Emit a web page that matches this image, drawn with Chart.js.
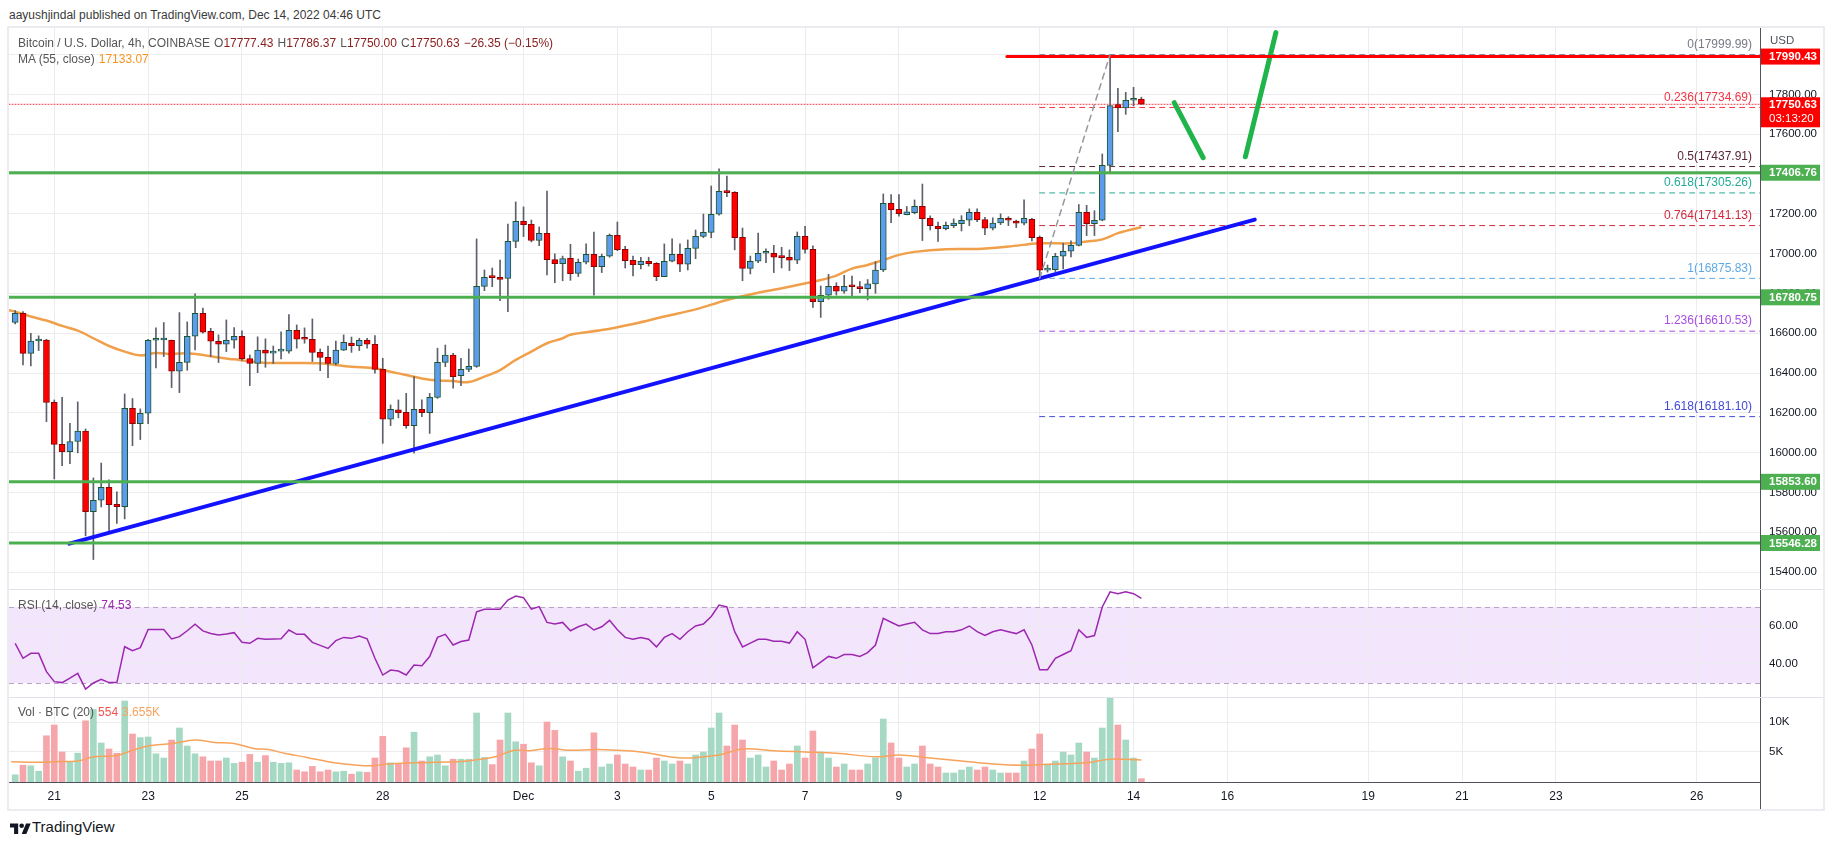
<!DOCTYPE html>
<html>
<head>
<meta charset="utf-8">
<title>Bitcoin / U.S. Dollar, 4h</title>
<script src="https://cdn.jsdelivr.net/npm/chart.js@4.4.1/dist/chart.umd.min.js"></script>
<style>
  body { margin: 0; width: 1834px; height: 845px; background: #fff; position: relative; overflow: hidden;
         font-family: "Liberation Sans", Arial, sans-serif; }
  canvas { position: absolute; }
  .txt { position: absolute; white-space: pre; font-size: 12px; line-height: 16px; color: #555; }
  .txt b { font-weight: normal; margin-left: 4px; }
  #frame { position: absolute; left: 7px; top: 26px; width: 1818px; height: 785px; border: 2px solid #ebebf0; box-sizing: border-box; }
  .sep { position: absolute; left: 9px; width: 1814px; height: 1px; background: #e0e3eb; }
  #axext { position: absolute; left: 1760px; top: 782px; width: 1px; height: 27px; background: #50535e; }
</style>
</head>
<body>
<div class="txt" style="left:9px;top:7px;color:#3a3a3a">aayushjindal published on TradingView.com, Dec 14, 2022 04:46 UTC</div>
<div id="frame"></div>
<canvas id="main" width="1814" height="561" style="left:9px;top:28px"></canvas>
<div class="sep" style="top:589px"></div>
<canvas id="rsi" width="1814" height="107" style="left:9px;top:590px"></canvas>
<div class="sep" style="top:697px"></div>
<canvas id="vol" width="1814" height="111" style="left:9px;top:698px"></canvas>
<div id="axext"></div>

<div class="txt" style="left:18px;top:35px">Bitcoin / U.S. Dollar, 4h, COINBASE<b>O<span style="color:#8b2020">17777.43</span></b><b>H<span style="color:#8b2020">17786.37</span></b><b>L<span style="color:#8b2020">17750.00</span></b><b>C<span style="color:#8b2020">17750.63</span></b><b style="color:#8b2020">−26.35 (−0.15%)</b></div>
<div class="txt" style="left:18px;top:51px">MA (55, close)<b style="color:#f7931e">17133.07</b></div>
<div class="txt" style="left:18px;top:597px">RSI (14, close)<b style="color:#9c27b0">74.53</b></div>
<div class="txt" style="left:18px;top:704px">Vol · BTC (20)<b style="color:#ef5350">554</b><b style="color:#f7a35c">3.655K</b></div>

<svg style="position:absolute;left:10px;top:821px" width="21" height="13" viewBox="0 0 36 22"><path d="M14 22H7V11H0V4h14v18z" fill="#131722"/><circle cx="20" cy="8" r="4" fill="#131722"/><path d="M28 22h-8l7.5-18h8z" fill="#131722"/></svg>
<div class="txt" style="left:32px;top:818px;font-family:'Liberation Sans Narrow','Liberation Sans',sans-serif;font-size:15px;line-height:18px;color:#131722">TradingView</div>

<script>
// x axis in 4h candles, 0 = Nov 21 00:00
const xMin = -5.79, xMax = 218.1;
const tickK = [0, 12, 24, 42, 60, 72, 84, 96, 108, 126, 138, 150, 168, 180, 192, 210];
const tickLabels = ['21', '23', '25', '28', 'Dec', '3', '5', '7', '9', '12', '14', '16', '19', '21', '23', '26'];
const priceTicks = [15400, 15600, 15800, 16000, 16200, 16400, 16600, 16800, 17000, 17200, 17400, 17600, 17800, 18000];

const firstK = -5;
const opens = [16654,16700,16499,16561,16566,16253,16042,16005,16056,16108,15704,15761,15826,15741,15729,16223,16146,16198,16565,16566,
  16565,16409,16454,16585,16700,16610,16560,16545,16565,16585,16473,16449,16515,16500,16510,16510,16615,16575,16570,16504,
  16479,16448,16515,16551,16538,16565,16545,16419,16168,16215,16203,16136,16218,16201,16278,16454,16491,16387,16419,16434,
  16836,16881,16881,16876,17062,17163,17148,17066,17102,16970,16950,16977,16901,16957,16997,16935,16987,17092,17022,16967,
  16945,16962,16952,16884,16962,16997,16947,17027,17087,17107,17198,17313,17308,17082,16926,16962,17002,17002,16982,16982,
  16967,17087,17022,16759,16791,16836,16811,16836,16833,16824,16848,16918,17253,17223,17196,17206,17238,17178,17138,17126,
  17141,17151,17168,17208,17171,17128,17154,17178,17164,17153,17173,17082,16917,16920,16987,17012,17042,17208,17151,17168,
  17444,17749,17732,17771,17777.43];
const highs = [16714,16709,16600,16587,16570,16265,16278,16148,16255,16119,15873,15948,15863,15803,16295,16272,16220,16570,16627,16654,
  16566,16704,16657,16798,16727,16625,16592,16667,16628,16612,16491,16582,16572,16536,16607,16694,16642,16627,16672,16521,
  16536,16561,16592,16581,16575,16575,16588,16474,16240,16265,16298,16382,16265,16298,16525,16541,16499,16474,16521,17074,
  16918,16928,16968,17149,17260,17235,17169,17134,17315,16999,16988,17047,16973,17049,17109,16998,17099,17159,17037,16988,
  16982,16982,16955,17049,17074,17049,17069,17119,17199,17340,17426,17390,17312,17129,16988,17104,17024,17042,17032,17019,
  17109,17137,17040,16838,16896,16854,16891,16888,16860,16870,16960,17300,17297,17297,17237,17270,17350,17190,17159,17159,
  17175,17191,17225,17225,17183,17180,17200,17186,17169,17270,17178,17089,16943,17002,17052,17064,17247,17243,17216,17501,
  17999.99,17831,17811,17836,17786.37];
const lows = [16647,16441,16436,16513,16156,15868,15935,15945,15999,15582,15463,15727,15608,15645,15667,16035,16066,16146,16426,16483,
  16327,16302,16414,16516,16600,16483,16453,16508,16525,16463,16337,16402,16429,16448,16471,16500,16525,16550,16458,16412,
  16377,16441,16513,16504,16513,16525,16399,16047,16136,16175,16123,15997,16181,16097,16273,16432,16324,16337,16407,16429,
  16814,16834,16764,16709,17030,17086,17059,17040,16893,16854,16864,16866,16885,16948,16792,16905,16982,17015,16928,16888,
  16923,16938,16864,16884,16958,16910,16918,16975,17080,17080,17193,17287,17019,16864,16898,16955,16955,16905,16928,16915,
  16950,17002,16730,16680,16771,16792,16801,16784,16804,16768,16801,16910,17156,17188,17195,17200,17066,17119,17061,17119,
  17131,17114,17141,17161,17096,17119,17146,17141,17131,17144,17064,16875.83,16907,16910,16923,16984,17039,17091,17091,17165,
  17411,17613,17700,17742,17750.00];
const closes = [16700,16499,16561,16563,16252,16042,16005,16056,16108,15704,15761,15826,15739,15729,16223,16146,16198,16565,16566,16567,
  16409,16454,16585,16700,16605,16560,16545,16565,16585,16473,16449,16515,16500,16510,16511,16615,16570,16570,16504,16479,
  16448,16515,16555,16538,16565,16545,16419,16168,16218,16201,16136,16218,16201,16278,16454,16491,16382,16419,16434,16836,
  16881,16880,16870,17062,17163,17146,17066,17102,16970,16950,16975,16900,16957,16997,16935,16987,17092,17020,16965,16945,
  16962,16950,16884,16962,16997,16947,17027,17087,17107,17198,17313,17307,17080,16926,16962,17002,17003,16982,16980,16967,
  17087,17022,16759,16791,16836,16811,16836,16834,16824,16848,16918,17253,17221,17201,17210,17238,17176,17141,17126,17143,
  17154,17168,17208,17171,17128,17154,17178,17168,17153,17178,17081,16917,16920,16987,17012,17042,17208,17151,17168,17444,
  17744,17732,17771,17773,17750.63];

// moving average (55)
const maK = [-5.8,-5,-3,-1,1,3,5,7,9,11,13,15,17,19,21,23,25,27,29,31,34,38,41,43,45,47,49,51,53,55,57,59,61,63,65,66,
  70,74,78,82,86,90,94,98,100,102,104,106,108,110,114,118,122,126,130,132,134,136,138,139];
const maValues = [16716,16709,16684,16664,16637,16613,16575,16536,16508,16489,16501,16496,16500,16491,16478,16469,16459,16451,16451,16451,
  16449,16432,16424,16407,16390,16373,16363,16360,16355,16382,16415,16466,16508,16550,16575,16593,
  16616,16647,16684,16720,16767,16804,16834,16868,16890,16925,16943,16968,16994,17009,17022,17024,17036,17052,17052,17061,17072,17103,17124,17133.07];

// RSI (14) per candle
const rsiValues = [50.9,43.0,45.6,45.6,36.0,30.7,30.2,32.6,35.1,26.8,30.0,31.9,30.2,30.2,49.1,47.0,48.6,58.2,58.2,58.2,
  53.2,54.4,57.5,60.9,57.4,56.1,55.3,55.8,56.5,51.4,50.9,53.5,53.0,53.2,53.3,57.9,55.6,55.6,51.4,49.8,
  48.2,52.3,54.0,53.5,54.7,53.3,43.0,34.2,36.8,36.3,34.2,39.5,39.1,43.9,54.0,55.6,50.0,51.8,52.6,67.5,
  68.8,68.8,68.8,73.7,75.8,74.9,68.9,70.2,61.9,61.0,61.9,57.5,59.6,61.0,57.9,59.6,63,58,54,53,
  54,53,49,54,56,53,57,60,61,65,71,70,57,49,51,53,53,52,52,51,
  57,53,38,41,44,43,45,45,44,46,50,64,62,60,61,62,58,56,56,57,
  57,58,60,57,55,57,58,57,56,58,50,37,37,43,45,47,58,54,55,70,
  78,77,78,77,74.53];

// volume in thousands BTC
const volumes = [1.2,2.8,2.7,1.8,7.7,9.5,5.0,3.4,4.8,10.2,12.1,6.5,5.5,4.8,13.5,8.0,7.4,7.5,4.7,4.0,
  7.0,9.0,6.0,4.7,4.2,3.5,3.5,4.0,3.1,3.3,4.6,3.3,4.4,3.3,3.1,3.2,2.0,1.7,2.6,1.7,
  2.0,1.7,1.8,1.3,1.7,1.6,4.0,7.6,3.2,3.1,5.7,8.3,3.5,4.2,4.5,2.7,3.8,3.8,3.8,11.5,
  4.1,2.9,7.0,11.5,6.7,6.3,3.2,2.7,10.0,8.6,4.2,3.5,1.8,2.3,8.2,2.5,3.0,4.5,3.0,2.5,
  2.0,2.0,4.0,3.5,3.0,3.5,3.0,4.5,5.0,9.0,11.5,6.0,9.5,7.0,4.0,4.5,2.5,3.5,2.0,3.0,
  6.0,4.0,8.5,5.0,4.0,2.5,3.0,2.0,2.0,3.0,4.0,10.5,6.5,4.0,2.5,3.0,6.0,3.0,2.5,1.5,
  1.5,2.0,2.5,2.0,2.5,2.0,1.5,1.5,1.5,3.5,5.5,8.0,3.0,3.5,5.0,4.5,6.5,5.0,4.0,9.0,
  14.0,9.5,7.0,4.0,0.554];
const volMaK = [-5.5,-2,0,3,5,8,10,12,15,18,20.5,23,25.5,27.4,29.4,32.3,35.8,38.7,40.7,42.6,46,49,52,54,56.4,58.8,60.8,63.3,65.7,69.6,
  75,80,85,88,92,96,100,105,108,112,116,120,124,128,132,135,139];
const volMaValues = [3.39,3.28,3.39,3.5,4.2,4.4,5.3,6.0,6.4,7.0,6.6,6.4,5.6,5.4,4.8,4.1,3.2,2.8,2.7,3.0,3.2,3.3,3.4,3.7,4.2,5.3,5.2,5.6,5.3,5.4,
  5.0,4.0,4.5,5.5,5.2,5.0,4.8,4.2,4.5,4.0,3.5,3.0,2.8,3.0,3.2,3.8,3.655];

// drawings on the price pane
const supportLevels = [17406.76, 16780.75, 15853.60, 15546.28];
const resistanceLevel = 17990.43;
const resistanceStartK = 121.8;
const lastPrice = 17750.63;
const countdown = '03:13:20';
const fibRatios = ['0', '0.236', '0.5', '0.618', '0.764', '1', '1.236', '1.618'];
const fibPrices = [17999.99, 17734.69, 17437.91, 17305.26, 17141.13, 16875.83, 16610.53, 16181.10];
const fibColors = ['#787b86', '#f23645', '#5a2635', '#22ab94', '#d1283c', '#5fa8e6', '#a84ee0', '#3f48d8'];
const fibAnchorK = [126, 135];
const trendK = [1.93, 153.5], trendP = [15543, 17171];
const arrowDownK = [143.2, 146.9], arrowDownP = [17759, 17482];
const arrowUpK = [152.3, 156.2], arrowUpP = [17487, 18111];

Chart.defaults.font.family = '"Liberation Sans", Arial, sans-serif';
Chart.defaults.color = '#131722';
Chart.defaults.animation = false;
Chart.defaults.plugins.legend.display = false;
Chart.defaults.plugins.tooltip.enabled = false;

const gridColor = '#ececef';
const axisColor = '#50535e';
const ks = opens.map((_, i) => firstK + i);
const up = ks.map((_, i) => closes[i] >= opens[i]);

function noPad(s) { s.paddingTop = 0; s.paddingBottom = 0; s.paddingLeft = 0; s.paddingRight = 0; }

function xAxis(showLabels) {
  return {
    type: 'linear', min: xMin, max: xMax, offset: false,
    afterBuildTicks: s => { s.ticks = tickK.map(v => ({ value: v })); },
    ticks: { display: showLabels, autoSkip: false, maxRotation: 0, padding: 7, font: { size: 12 }, color: '#131722',
             callback: v => tickLabels[tickK.indexOf(v)] },
    grid: { color: gridColor, drawTicks: false, offset: false },
    border: { display: showLabels, color: axisColor },
    afterFit: s => { s.height = showLabels ? 27 : 0; noPad(s); }
  };
}

function yAxis(min, max, ticks, fmt) {
  return {
    position: 'right', min, max,
    afterBuildTicks: s => { s.ticks = ticks.map(v => ({ value: v })); },
    ticks: { autoSkip: false, padding: 9, font: { size: 11.5 }, color: '#131722', callback: fmt },
    grid: { color: gridColor, drawTicks: false },
    border: { color: axisColor },
    afterFit: s => { s.width = 63; noPad(s); }
  };
}

function seg(k0, p0, k1, p1, color, width, dash, order) {
  return { type: 'line', data: [{ x: k0, y: p0 }, { x: k1, y: p1 }], borderColor: color, borderWidth: width,
           borderDash: dash || [], pointRadius: 0, fill: false, order, borderCapStyle: 'round' };
}

// price pane overlay: fib labels and price boxes on the axis
const priceOverlay = {
  id: 'priceOverlay',
  afterDraw(chart) {
    const { ctx, chartArea, scales: { y } } = chart;
    ctx.save();
    ctx.font = '12px "Liberation Sans", Arial, sans-serif';
    ctx.textAlign = 'right';
    ctx.textBaseline = 'middle';
    fibPrices.forEach((p, i) => {
      ctx.fillStyle = fibColors[i];
      ctx.fillText(fibRatios[i] + '(' + p.toFixed(2) + ')', chartArea.right - 8, y.getPixelForValue(p) - 10);
    });
    const bx = chartArea.right + 1, bw = 59;
    ctx.textAlign = 'left';
    ctx.font = 'bold 11.5px "Liberation Sans", Arial, sans-serif';
    const box = (p, color) => {
      const yc = y.getPixelForValue(p);
      ctx.fillStyle = color;
      ctx.fillRect(bx, yc - 8, bw, 16);
      ctx.fillStyle = '#fff';
      ctx.fillText(p.toFixed(2), bx + 8, yc + 0.5);
    };
    box(resistanceLevel, '#ff0000');
    supportLevels.forEach(p => box(p, '#4caf50'));
    const yl = y.getPixelForValue(lastPrice);
    ctx.fillStyle = '#ff0000';
    ctx.fillRect(bx, yl - 7, bw, 30);
    ctx.fillStyle = '#fff';
    ctx.fillText(lastPrice.toFixed(2), bx + 8, yl + 0.5);
    ctx.font = '11.5px "Liberation Sans", Arial, sans-serif';
    ctx.fillText(countdown, bx + 8, yl + 15);
    ctx.fillStyle = '#50535e';
    ctx.font = '11.5px "Liberation Sans", Arial, sans-serif';
    ctx.fillText('USD', bx + 9, 13);
    ctx.restore();
  }
};

const mainDatasets = [
  { type: 'bar', data: ks.map((k, i) => ({ x: k, y: [opens[i], closes[i]] })), grouped: false, barThickness: 6, minBarLength: 2,
    backgroundColor: up.map(u => u ? '#5d9cec' : '#ff0000'), borderColor: up.map(u => u ? '#1e5631' : '#8b0000'),
    borderWidth: 1, borderSkipped: false, order: 1 },
  { type: 'bar', data: ks.map((k, i) => ({ x: k, y: [lows[i], highs[i]] })), grouped: false, barThickness: 1,
    backgroundColor: '#5d606b', order: 2 },
  { type: 'line', data: maK.map((k, i) => ({ x: k, y: maValues[i] })), borderColor: '#f0a04b', borderWidth: 2.5,
    pointRadius: 0, tension: 0.35, fill: false, order: 3 },
  seg(xMin, lastPrice, xMax, lastPrice, '#f23645', 1, [1, 2], 4),
  seg(fibAnchorK[0], fibPrices[5], fibAnchorK[1], fibPrices[0], '#9598a1', 1.5, [6, 5], 0)
];
fibPrices.forEach((p, i) => mainDatasets.push(seg(fibAnchorK[0], p, xMax, p, fibColors[i], 1, [5, 5], 4)));
supportLevels.forEach(p => mainDatasets.push(seg(xMin, p, xMax, p, '#4caf50', 3, [], 0)));
mainDatasets.push(seg(resistanceStartK, resistanceLevel, xMax, resistanceLevel, '#ff0000', 3, [], 0));
mainDatasets.push(seg(trendK[0], trendP[0], trendK[1], trendP[1], '#1212ff', 4, [], 0));
mainDatasets.push(seg(arrowDownK[0], arrowDownP[0], arrowDownK[1], arrowDownP[1], '#1fb54a', 5, [], 0));
mainDatasets.push(seg(arrowUpK[0], arrowUpP[0], arrowUpK[1], arrowUpP[1], '#1fb54a', 5, [], 0));

new Chart(document.getElementById('main'), {
  type: 'bar',
  data: { datasets: mainDatasets },
  options: {
    responsive: false, devicePixelRatio: 1,
    layout: { padding: 0 },
    scales: { x: xAxis(false), y: yAxis(15315, 18134, priceTicks, v => v.toFixed(2)) }
  },
  plugins: [priceOverlay]
});

// RSI pane
const rsiBand = {
  id: 'rsiBand',
  beforeDraw(chart) {
    const { ctx, chartArea, scales: { y } } = chart;
    const t = y.getPixelForValue(70), b = y.getPixelForValue(30);
    ctx.save();
    ctx.fillStyle = '#f3e6fc';
    ctx.fillRect(chartArea.left, t, chartArea.width, b - t);
    ctx.restore();
  },
  beforeDatasetsDraw(chart) {
    const { ctx, chartArea, scales: { y } } = chart;
    ctx.save();
    ctx.strokeStyle = '#b8a6c4';
    ctx.lineWidth = 1;
    ctx.setLineDash([5, 4]);
    [70, 30].forEach(v => {
      const yy = Math.round(y.getPixelForValue(v)) + 0.5;
      ctx.beginPath(); ctx.moveTo(chartArea.left, yy); ctx.lineTo(chartArea.right, yy); ctx.stroke();
    });
    ctx.restore();
  }
};

new Chart(document.getElementById('rsi'), {
  type: 'line',
  data: { datasets: [{ data: ks.map((k, i) => ({ x: k, y: rsiValues[i] })), borderColor: '#9c27b0', borderWidth: 1.5,
                        pointRadius: 0, fill: false, tension: 0 }] },
  options: {
    responsive: false, devicePixelRatio: 1,
    layout: { padding: 0 },
    scales: { x: xAxis(false), y: yAxis(22.63, 78.95, [40, 60], v => v.toFixed(2)) }
  },
  plugins: [rsiBand]
});

// volume pane
new Chart(document.getElementById('vol'), {
  type: 'bar',
  data: { datasets: [
    { type: 'line', data: volMaK.map((k, i) => ({ x: k, y: volMaValues[i] })), borderColor: '#f7a35c', borderWidth: 1.5,
      pointRadius: 0, tension: 0.35, fill: false, order: 0 },
    { type: 'bar', data: ks.map((k, i) => ({ x: k, y: volumes[i] })), grouped: false, barThickness: 6,
      backgroundColor: up.map(u => u ? '#a6d9c4' : '#f5a6ab'), order: 1 }
  ] },
  options: {
    responsive: false, devicePixelRatio: 1,
    layout: { padding: 0 },
    scales: { x: xAxis(true), y: yAxis(0, 14, [5, 10], v => v + 'K') }
  }
});
</script>
</body>
</html>
